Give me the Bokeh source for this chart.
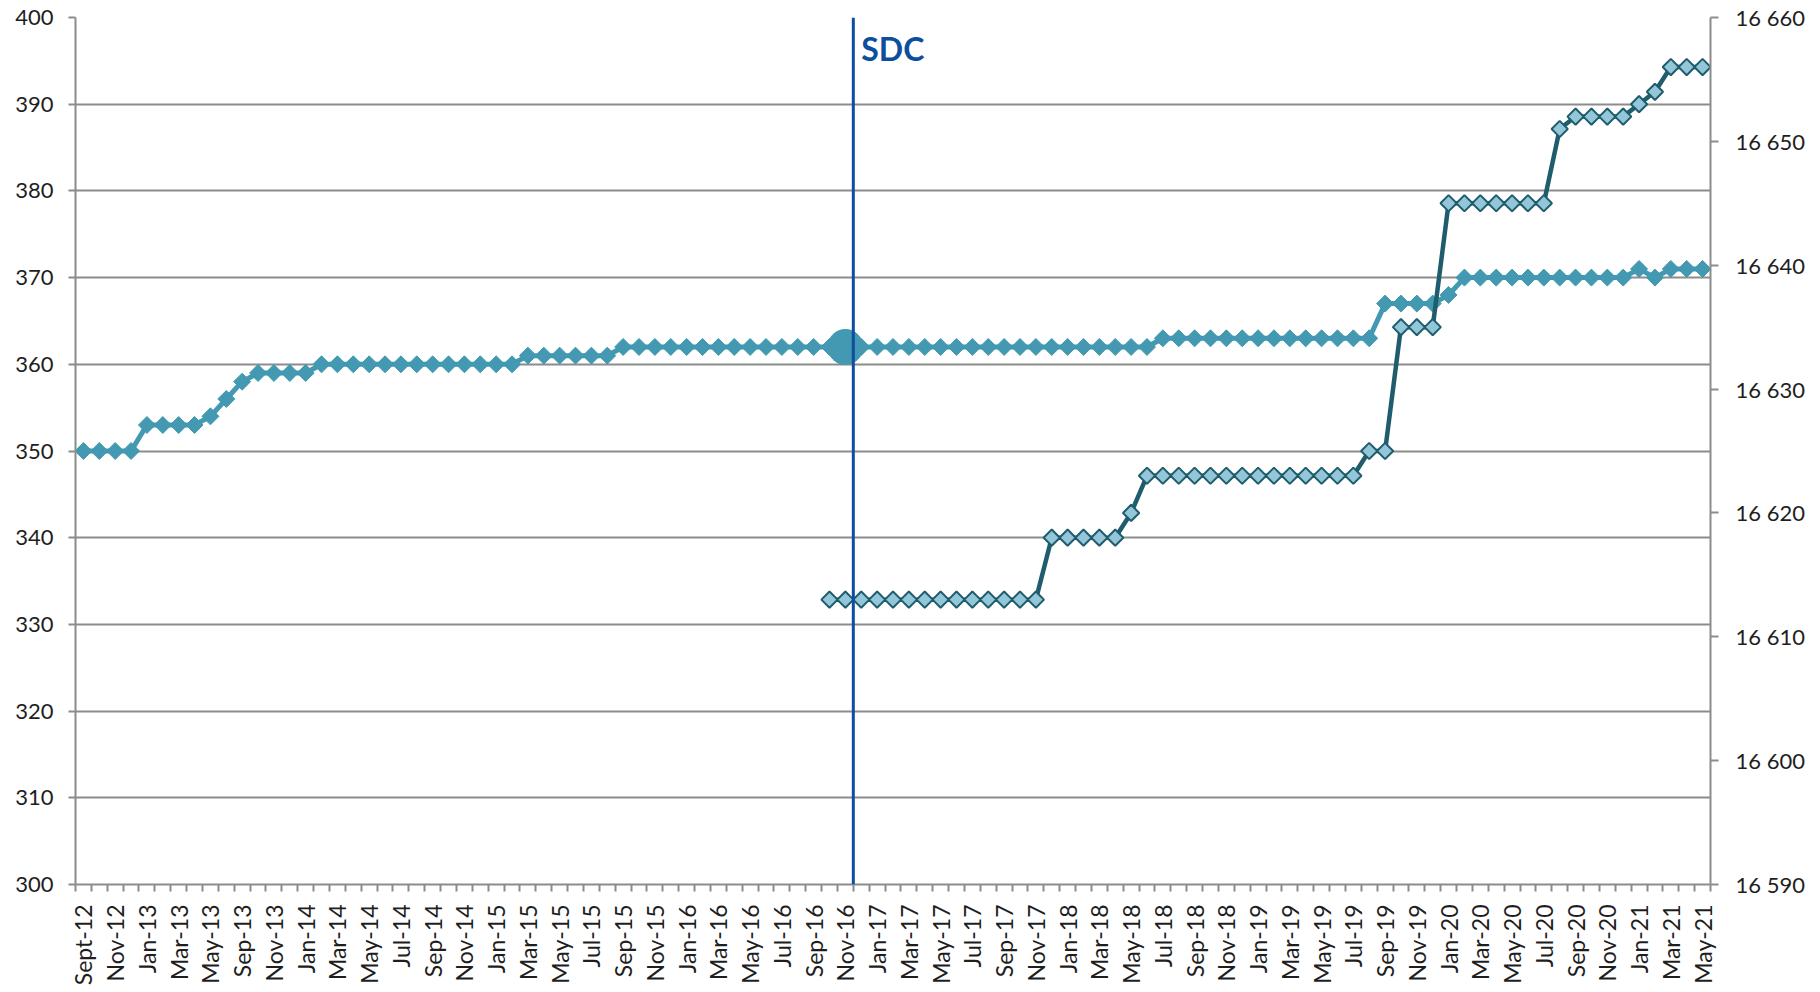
import numpy as np
from bokeh.plotting import figure
from bokeh.models import Range1d, LinearAxis, FixedTicker, Span, Label, ColumnDataSource
from bokeh.embed import file_html
from bokeh.resources import INLINE

# ---------------- data ----------------
months = [
    "Sept-12", "Oct-12", "Nov-12", "Dec-12", "Jan-13", "Feb-13", "Mar-13", "Apr-13", "May-13", "Jul-13",
    "Sep-13", "Oct-13", "Nov-13", "Dec-13",
    "Jan-14", "Feb-14", "Mar-14", "Apr-14", "May-14", "Jun-14", "Jul-14", "Aug-14", "Sep-14", "Oct-14", "Nov-14", "Dec-14",
    "Jan-15", "Feb-15", "Mar-15", "Apr-15", "May-15", "Jun-15", "Jul-15", "Aug-15", "Sep-15", "Oct-15", "Nov-15", "Dec-15",
    "Jan-16", "Feb-16", "Mar-16", "Apr-16", "May-16", "Jun-16", "Jul-16", "Aug-16", "Sep-16", "Oct-16", "Nov-16", "Dec-16",
    "Jan-17", "Feb-17", "Mar-17", "Apr-17", "May-17", "Jun-17", "Jul-17", "Aug-17", "Sep-17", "Oct-17", "Nov-17", "Dec-17",
    "Jan-18", "Feb-18", "Mar-18", "Apr-18", "May-18", "Jun-18", "Jul-18", "Aug-18", "Sep-18", "Oct-18", "Nov-18", "Dec-18",
    "Jan-19", "Feb-19", "Mar-19", "Apr-19", "May-19", "Jun-19", "Jul-19", "Aug-19", "Sep-19", "Oct-19", "Nov-19", "Dec-19",
    "Jan-20", "Feb-20", "Mar-20", "Apr-20", "May-20", "Jun-20", "Jul-20", "Aug-20", "Sep-20", "Oct-20", "Nov-20", "Dec-20",
    "Jan-21", "Feb-21", "Mar-21", "Apr-21", "May-21",
]

# left axis series (filled diamonds)
series_left = [
    350, 350, 350, 350, 353, 353, 353, 353, 354, 356,
    358, 359, 359, 359, 359,
    360, 360, 360, 360, 360, 360, 360, 360, 360, 360, 360, 360, 360,
    361, 361, 361, 361, 361, 361,
    362, 362, 362, 362, 362, 362, 362, 362, 362, 362, 362, 362, 362, 362, 362, 362, 362,
    362, 362, 362, 362, 362, 362, 362, 362, 362, 362, 362, 362, 362, 362, 362, 362, 362,
    363, 363, 363, 363, 363, 363, 363, 363, 363, 363, 363, 363, 363, 363,
    367, 367, 367, 367, 368,
    370, 370, 370, 370, 370, 370, 370, 370, 370, 370, 370,
    371, 370, 371, 371, 371,
]

# right axis series (outlined diamonds), starts at Oct-16
right_start = "Oct-16"
series_right = [
    16613, 16613, 16613, 16613, 16613, 16613, 16613, 16613, 16613, 16613, 16613, 16613, 16613, 16613,
    16618, 16618, 16618, 16618, 16618, 16620,
    16623, 16623, 16623, 16623, 16623, 16623, 16623, 16623, 16623, 16623, 16623, 16623, 16623, 16623,
    16625, 16625, 16635, 16635, 16635,
    16645, 16645, 16645, 16645, 16645, 16645, 16645,
    16651, 16652, 16652, 16652, 16652, 16653, 16654, 16656, 16656, 16656,
]

sdc_month = "Nov-16"
sdc_text = "SDC"

left_ticks = [300, 310, 320, 330, 340, 350, 360, 370, 380, 390, 400]
right_ticks = [16590, 16600, 16610, 16620, 16630, 16640, 16650, 16660]
right_labels = ["16 590", "16 600", "16 610", "16 620", "16 630", "16 640", "16 650", "16 660"]

# ---------------- styles ----------------
CYAN = "#4299B1"
DARK = "#1F5D6D"
LIGHT = "#93C6D9"
SDC_BLUE = "#0D4E9E"
GRID = "#8C8C8C"
TEXT = "#1E1E1E"
FONT = "Lato"

n = len(months)
x_all = list(range(n))
start_idx = months.index(right_start)
x_right = list(range(start_idx, start_idx + len(series_right)))
sdc_idx = months.index(sdc_month)

p = figure(width=1816, height=988, output_backend="svg", toolbar_location=None,
           x_range=Range1d(-0.5, n - 0.5), y_range=Range1d(300, 400),
           min_border_left=75, min_border_right=106, min_border_top=17, min_border_bottom=102)
p.outline_line_color = None
p.background_fill_color = "white"
p.border_fill_color = "white"

p.extra_y_ranges = {"right": Range1d(16590, 16660)}

# x axis
xax = p.xaxis[0]
xax.ticker = FixedTicker(ticks=x_all[::2], minor_ticks=[i - 0.5 for i in range(n + 1)])
xax.major_label_overrides = {i: months[i] for i in x_all[::2]}
xax.major_label_orientation = np.pi / 2
xax.major_tick_out = 0
xax.major_tick_in = 0
xax.minor_tick_out = 7
xax.minor_tick_in = 0
xax.minor_tick_line_color = GRID
xax.minor_tick_line_width = 2
xax.axis_line_color = GRID
xax.axis_line_width = 2
xax.major_label_standoff = 13
xax.major_label_text_font = FONT
xax.major_label_text_font_size = "23px"
xax.major_label_text_color = TEXT

# left axis
yax = p.yaxis[0]
yax.ticker = FixedTicker(ticks=left_ticks)
yax.major_tick_out = 7
yax.major_tick_in = 0
yax.minor_tick_out = 0
yax.minor_tick_in = 0
yax.major_tick_line_color = GRID
yax.major_tick_line_width = 2
yax.axis_line_color = GRID
yax.axis_line_width = 2
yax.major_label_standoff = 15
yax.major_label_text_font = FONT
yax.major_label_text_font_size = "22px"
yax.major_label_text_color = TEXT

# right axis
rax = LinearAxis(y_range_name="right")
rax.ticker = FixedTicker(ticks=right_ticks)
rax.major_label_overrides = {t: l for t, l in zip(right_ticks, right_labels)}
rax.major_tick_out = 8
rax.major_tick_in = 0
rax.minor_tick_out = 0
rax.minor_tick_in = 0
rax.major_tick_line_color = GRID
rax.major_tick_line_width = 2
rax.axis_line_color = GRID
rax.axis_line_width = 2
rax.major_label_standoff = 17
rax.major_label_text_font = FONT
rax.major_label_text_font_size = "22px"
rax.major_label_text_color = TEXT
p.add_layout(rax, "right")

# grid
p.xgrid.visible = False
p.ygrid.ticker = FixedTicker(ticks=left_ticks)
p.ygrid.grid_line_color = GRID
p.ygrid.grid_line_width = 2

# left series
src_l = ColumnDataSource(dict(x=x_all, y=series_left))
p.line("x", "y", source=src_l, line_color=CYAN, line_width=5)
p.scatter("x", "y", source=src_l, marker="square", angle=np.pi / 4, size=12,
          fill_color=CYAN, line_color=CYAN, line_width=1)
# highlighted point at SDC month
p.scatter(x=[sdc_idx], y=[series_left[sdc_idx]], marker="circle", size=35,
          fill_color=CYAN, line_color=CYAN)

# right series
src_r = ColumnDataSource(dict(x=x_right, y=series_right))
p.line("x", "y", source=src_r, y_range_name="right", line_color=DARK, line_width=4.5)
p.scatter("x", "y", source=src_r, y_range_name="right", marker="square", angle=np.pi / 4,
          size=11.5, fill_color=LIGHT, line_color=DARK, line_width=2)

# SDC marker line and text
p.add_layout(Span(location=sdc_idx + 0.5, dimension="height", line_color=SDC_BLUE, line_width=3))
p.add_layout(Label(x=sdc_idx + 0.5, y=396.4, x_offset=8, text=sdc_text,
                   text_font=FONT, text_font_style="bold", text_font_size="32px",
                   text_color=SDC_BLUE, text_baseline="alphabetic", text_align="left"))

open("out.html", "w").write(file_html(p, INLINE))
